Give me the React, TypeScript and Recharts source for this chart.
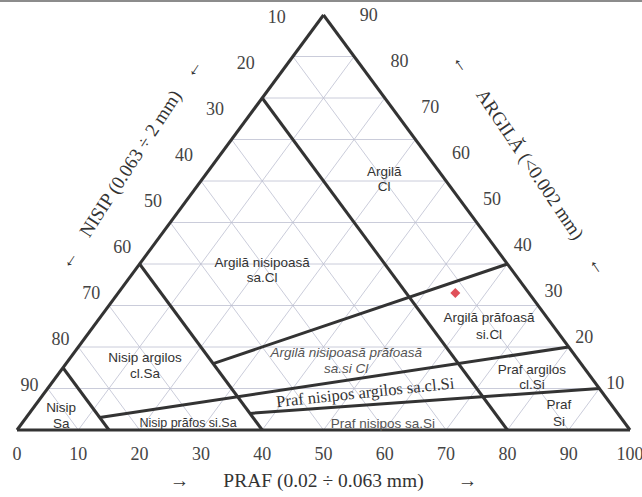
import React from 'react';
import { ComposedChart, XAxis, YAxis, ReferenceLine, ReferenceDot, Scatter } from 'recharts';

// silt (PRAF) ticks along the bottom
const prafTicks = [0, 10, 20, 30, 40, 50, 60, 70, 80, 90, 100];
// sand (NISIP) and clay (ARGILĂ) ticks on the two sides
const nisipTicks = [10, 20, 30, 40, 50, 60, 70, 80, 90];
const argilaTicks = [10, 20, 30, 40, 50, 60, 70, 80, 90];
// grid every 10 %
const gridSteps = [10, 20, 30, 40, 50, 60, 70, 80, 90];

// class boundaries: lines of constant sand
const sandBoundaries = [85, 60, 20];
// class boundaries: lines of constant clay/(clay+silt), starting on a sand line
const clayRatios = [0.4, 0.2, 0.1];
const clayRatioStartSand = [60, 85, 60];

// measured sample (sand, silt, clay %)
const sampleSand = [12];
const sampleSilt = [55];
const sampleClay = [33];

const classNames = [
  'Argilă',
  'Argilă nisipoasă',
  'Argilă prăfoasă',
  'Argilă nisipoasă prăfoasă',
  'Praf nisipos argilos sa.cl.Si',
  'Praf argilos',
  'Praf',
  'Praf nisipos sa.Si',
  'Nisip prăfos si.Sa',
  'Nisip argilos',
  'Nisip',
];
const classCodes = ['Cl', 'sa.Cl', 'si.Cl', 'sa.si Cl', '', 'cl.Si', 'Si', '', '', 'cl.Sa', 'Sa'];

// ternary (sand, silt, clay) -> chart space
const tern = (sand: number, silt: number, clay: number) => ({ x: silt + clay / 2, y: clay });

const INK = '#333';
const GRID = '#bcbfd0';
const SANS = '"Liberation Sans", Arial, sans-serif';
const SERIF = '"Liberation Serif", "Times New Roman", serif';

// where each class name sits (chart space) and how it is drawn
const classLayout = [
  { x: 59.9, y: 60.5, gap: 15 },
  { x: 40.0, y: 38.6, gap: 15 },
  { x: 77.0, y: 25.1, gap: 17 },
  { x: 53.7, y: 16.9, gap: 16, italic: true, fill: '#555' },
  { x: 56.8, y: 9.2, angle: -6, serif: true },
  { x: 84.0, y: 13.0, gap: 15 },
  { x: 88.4, y: 4.1, gap: 17 },
  { x: 59.7, y: 1.7, fill: '#555' },
  { x: 27.9, y: 1.7, size: 12.5 },
  { x: 20.9, y: 15.7, gap: 16 },
  { x: 7.2, y: 3.6, gap: 16 },
];

type TextOpts = {
  size?: number;
  family?: string;
  fill?: string;
  italic?: boolean;
  angle?: number;
  gap?: number;
};

function textAt(key: string, x: number, y: number, lines: string[], o: TextOpts = {}) {
  const gap = o.gap ?? 15;
  return (
    <ReferenceDot
      key={key}
      x={x}
      y={y}
      r={0}
      ifOverflow="visible"
      shape={(p: any) => (
        <text
          x={p.cx}
          y={p.cy}
          textAnchor="middle"
          dominantBaseline="central"
          fontSize={o.size ?? 13.5}
          fontFamily={o.family ?? SANS}
          fontStyle={o.italic ? 'italic' : 'normal'}
          fill={o.fill ?? INK}
          transform={o.angle ? `rotate(${o.angle} ${p.cx} ${p.cy})` : undefined}
        >
          {lines.map((ln, i) => (
            <tspan key={i} x={p.cx} dy={i === 0 ? -((lines.length - 1) * gap) / 2 : gap}>
              {ln}
            </tspan>
          ))}
        </text>
      )}
    />
  );
}

function seg(key: string, a: { x: number; y: number }, b: { x: number; y: number }, stroke: string, w: number) {
  return (
    <ReferenceLine key={key} segment={[a, b]} stroke={stroke} strokeWidth={w} ifOverflow="visible" />
  );
}

const diamond = (p: any) => {
  const r = 5;
  return (
    <polygon
      points={`${p.cx},${p.cy - r} ${p.cx + r},${p.cy} ${p.cx},${p.cy + r} ${p.cx - r},${p.cy}`}
      fill="#e0505a"
    />
  );
};

const NB = '\u00a0';
const pad = (n: number) => NB.repeat(n);

export default function App() {
  const samples = sampleSand.map((s, i) => tern(s, sampleSilt[i], sampleClay[i]));

  const grid = gridSteps.flatMap((k) => [
    seg(`gc${k}`, tern(100 - k, 0, k), tern(0, 100 - k, k), GRID, 0.8),
    seg(`gs${k}`, tern(k, 0, 100 - k), tern(k, 100 - k, 0), GRID, 0.8),
    seg(`gt${k}`, tern(100 - k, k, 0), tern(0, k, 100 - k), GRID, 0.8),
  ]);

  const sandLines = sandBoundaries.map((s) =>
    seg(`sb${s}`, tern(s, 0, 100 - s), tern(s, 100 - s, 0), INK, 3)
  );

  const ratioLines = clayRatios.map((r, i) => {
    const s0 = clayRatioStartSand[i];
    const rest = 100 - s0;
    return seg(`rb${r}`, tern(s0, rest * (1 - r), rest * r), tern(0, 100 * (1 - r), 100 * r), INK, 3);
  });

  const edges = [
    seg('e1', tern(100, 0, 0), tern(0, 100, 0), INK, 3),
    seg('e2', tern(0, 100, 0), tern(0, 0, 100), INK, 3),
    seg('e3', tern(0, 0, 100), tern(100, 0, 0), INK, 3),
  ];

  // side tick labels sit a little outside the edges
  const sandLabels = nisipTicks.map((s) =>
    textAt(`nl${s}`, 47.4 - 0.504 * s, 110.6 - 1.109 * s, [String(s)], {
      size: 18,
      family: SERIF,
      fill: '#444',
    })
  );
  const clayLabels = argilaTicks.map((c) =>
    textAt(`al${c}`, 102.6 - 0.5025 * c, 0.2 + 1.109 * c, [String(c)], {
      size: 18,
      family: SERIF,
      fill: '#444',
    })
  );

  const classLabels = classNames.map((name, i) => {
    const l: any = classLayout[i];
    const lines = classCodes[i] ? [name, classCodes[i]] : [name];
    return textAt(`cl${i}`, l.x, l.y, lines, {
      gap: l.gap,
      italic: l.italic,
      fill: l.fill,
      angle: l.angle,
      size: l.serif ? 16.5 : l.size ?? 13.5,
      family: l.serif ? SERIF : SANS,
    });
  });

  return (
    <div style={{ position: 'absolute', left: 0, top: 0, width: 642, height: 497, background: '#fff' }}>
      <div style={{ position: 'absolute', left: 0, top: 0, width: 642, height: 2, background: '#8c8c8c' }} />
      <ComposedChart width={642} height={497} margin={{ top: 15, right: 12, left: 17, bottom: 7 }}>
        <XAxis
          type="number"
          dataKey="x"
          domain={[0, 100]}
          ticks={prafTicks}
          interval={0}
          height={60}
          axisLine={false}
          tickLine={false}
          tickSize={6}
          tickMargin={11}
          tick={{ fontSize: 18, fontFamily: SERIF, fill: '#444' }}
          label={{
            value: `→${pad(7)}PRAF (0.02 ÷ 0.063 mm)${pad(7)}→`,
            position: 'insideBottom',
            offset: 3,
            fontSize: 19.5,
            fontFamily: SERIF,
            fill: INK,
          }}
        />
        <YAxis type="number" dataKey="y" domain={[0, 100]} hide />
        {grid}
        {sandLines}
        {ratioLines}
        {edges}
        {sandLabels}
        {clayLabels}
        {classLabels}
        {textAt('tn', 18.4, 64.3, [`←${pad(4)}NISIP (0.063 ÷ 2 mm)${pad(4)}←`], {
          size: 19,
          family: SERIF,
          angle: -57,
        })}
        {textAt('ta', 83.8, 64.1, [`←${pad(5)}ARGILĂ (<0.002 mm)${pad(5)}←`], {
          size: 19,
          family: SERIF,
          angle: 56,
        })}
        <Scatter data={samples} isAnimationActive={false} shape={diamond} />
      </ComposedChart>
    </div>
  );
}
